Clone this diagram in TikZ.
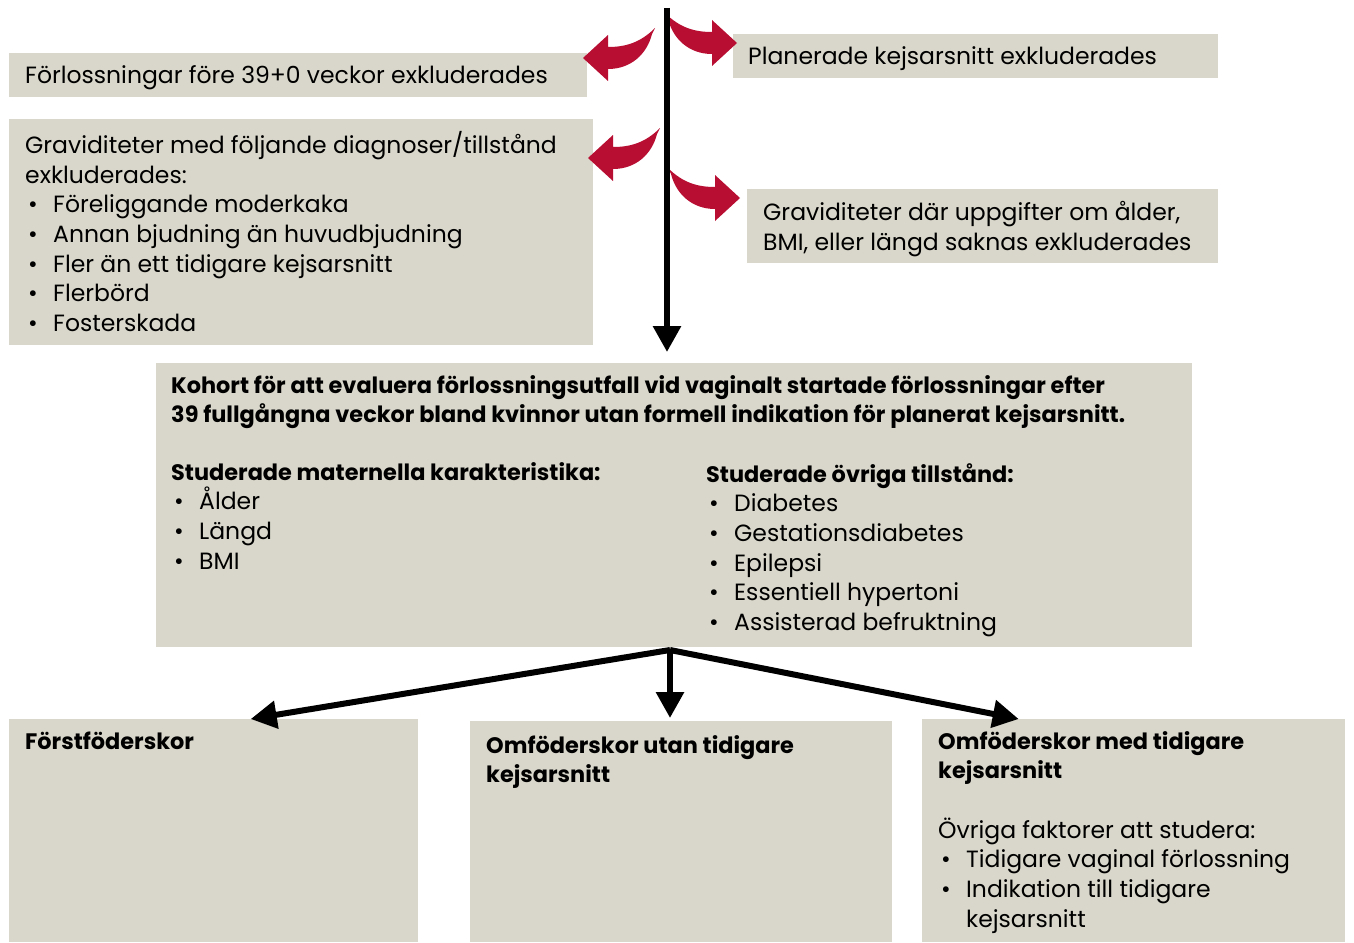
\documentclass[tikz,border=0pt]{standalone}
\usepackage{fontspec}
\setmainfont{Poppins}
\usetikzlibrary{arrows.meta,positioning}
\definecolor{boxgray}{RGB}{217,215,203}
\definecolor{flowred}{RGB}{184,14,50}
\tikzset{
  box/.style   = {fill=boxgray, inner sep=0pt, anchor=north west},
  txt/.style   = {align=left, inner sep=0pt, font=\fontsize{23.5}{29.7}\selectfont},
  btxt/.style  = {txt, font=\fontsize{22.4}{29.7}\selectfont\bfseries},
  arr/.style   = {-{Triangle[length=26pt,width=27pt]}, line width=6pt},
  redarrow/.pic = {
    \fill[flowred] (0,0) .. controls (15,15) and (30,19) .. (47,19) -- (47,7)
      -- (72,30) -- (47,53) -- (47,41) .. controls (24,41) and (8,26) .. (3,6) -- cycle;
  }
}
\newcommand{\itm}[1]{\makebox[28pt][l]{\hspace{3pt}\textbullet}#1}
\newcommand{\hd}[1]{{\fontsize{22.4}{29.7}\selectfont\bfseries #1}}

\begin{document}
\begin{tikzpicture}[x=1pt, y=-1pt]
  \useasboundingbox[fill=white] (0,0) rectangle (1354,942);

  % exclusion boxes
  \node[box, minimum width=578pt, minimum height=44pt] (fore) at (9,53) {};
  \node[box, minimum width=485pt, minimum height=44pt] (plan) at (733,34) {};
  \node[box, minimum width=584pt, minimum height=226pt] (grav) at (9,119) {};
  \node[box, minimum width=471pt, minimum height=74pt] (uppg) at (747,189) {};

  \node[txt, below right=12pt and 16pt of fore.north west] (foretxt)
    {Förlossningar före 39+0 veckor exkluderades};
  \node[txt, below right=12pt and 15pt of plan.north west] (plantxt)
    {Planerade kejsarsnitt exkluderades};
  \node[txt, below right=12pt and 16pt of grav.north west] (gravtxt)
    {Graviditeter med följande diagnoser/tillstånd\\
     exkluderades:\\
     \itm{Föreliggande moderkaka}\\
     \itm{Annan bjudning än huvudbjudning}\\
     \itm{Fler än ett tidigare kejsarsnitt}\\
     \itm{Flerbörd}\\
     \itm{Fosterskada}};
  \node[txt, below right=12pt and 16pt of uppg.north west] (uppgtxt)
    {Graviditeter där uppgifter om ålder,\\
     BMI, eller längd saknas exkluderades};

  % cohort
  \node[box, minimum width=1036pt, minimum height=284pt] (kohort) at (156,363) {};
  \node[btxt, below right=12pt and 15pt of kohort.north west] (kohorttxt)
    {Kohort för att evaluera förlossningsutfall vid vaginalt startade förlossningar efter\\
     39 fullgångna veckor bland kvinnor utan formell indikation för planerat kejsarsnitt.};
  \node[txt, below right=99pt and 15pt of kohort.north west] (matertxt)
    {\hd{Studerade maternella karakteristika:}\\
     \itm{Ålder}\\
     \itm{Längd}\\
     \itm{BMI}};
  \node[txt, below right=100pt and 550pt of kohort.north west] (ovrtxt)
    {\hd{Studerade övriga tillstånd:}\\
     \itm{Diabetes}\\
     \itm{Gestationsdiabetes}\\
     \itm{Epilepsi}\\
     \itm{Essentiell hypertoni}\\
     \itm{Assisterad befruktning}};

  % groups
  \node[box, minimum width=409pt, minimum height=223pt] (forst) at (9,719) {};
  \node[box, minimum width=422pt, minimum height=221pt] (utan) at (470,721) {};
  \node[box, minimum width=423pt, minimum height=223pt] (med) at (922,719) {};

  \node[btxt, below right=13pt and 16pt of forst.north west] (forsttxt)
    {Förstföderskor};
  \node[btxt, below right=14pt and 16pt of utan.north west] (utantxt)
    {Omföderskor utan tidigare\\ kejsarsnitt};
  \node[txt, below right=12pt and 16pt of med.north west] (medtxt)
    {\hd{Omföderskor med tidigare}\\
     \hd{kejsarsnitt}\\[29.7pt]
     Övriga faktorer att studera:\\
     \itm{Tidigare vaginal förlossning}\\
     \itm{Indikation till tidigare}\\
     \hspace*{28pt}kejsarsnitt};

  % red exclusion arrows
  \pic at (665,13) {redarrow};
  \pic[xscale=-1] at (655,28) {redarrow};
  \pic[xscale=-1] at (660,128) {redarrow};
  \pic at (668,168) {redarrow};

  % flow arrows
  \coordinate (start) at (667,8);
  \draw[arr, shorten >=11pt] (start) -- (start |- kohort.north);
  \coordinate (split) at (670,650);
  \draw[arr, line join=round] (split) -- ([xshift=37pt]forst.north);
  \draw[arr, shorten >=3pt] (split) -- (split |- utan.north);
  \draw[arr, line join=round] (split) -- ([xshift=-115pt]med.north);
\end{tikzpicture}
\end{document}
